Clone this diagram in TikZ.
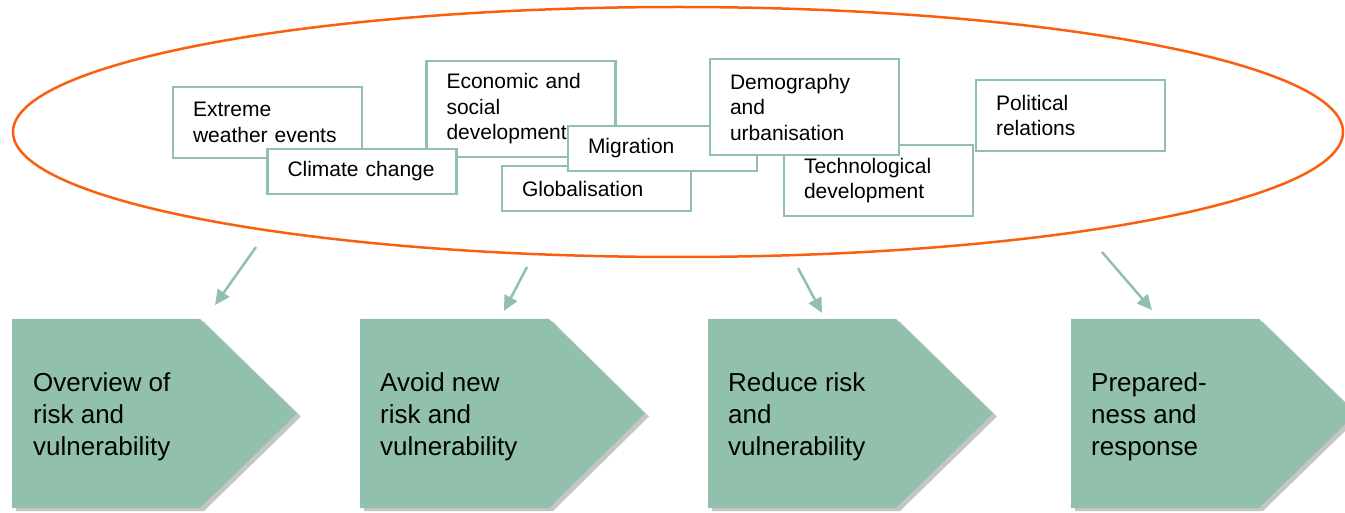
\documentclass[tikz,border=0pt]{standalone}
\usepackage{xcolor}
\usepackage{fontspec}
\setmainfont{Liberation Sans}
\usetikzlibrary{arrows.meta, shadows}

\definecolor{sage}{RGB}{145,193,172}
\definecolor{ringorange}{RGB}{250,95,15}

\begin{document}
\begin{tikzpicture}[x=1pt, y=-1pt,
	factor/.style={draw=sage, line width=2.5pt, fill=white, minimum width=189pt, text width=149pt, inner xsep=20pt, inner ysep=0pt, align=left, font=\fontsize{21}{25.5}\selectfont},
	stage/.style={fill=sage, drop shadow={shadow xshift=4pt, shadow yshift=-3pt, fill=black!45, opacity=.5}},
	stagetext/.style={anchor=west, align=left, inner sep=0pt, font=\fontsize{26}{32}\selectfont},
	link/.style={draw=sage, line width=2.5pt, -{Triangle[length=15pt,width=14pt]}}]
	\useasboundingbox (0,0) rectangle (1345,513);

	\draw[ringorange, line width=2.5pt] (678,132) ellipse [x radius=665, y radius=125];

	\begin{scope}[every node/.style=factor]
		\node[minimum height=71pt] (extreme) at (267.5,122.5) {Extreme\\weather events};
		\node[minimum height=96pt] (economic) at (521,109) {Economic and\\social\\development};
		\node[minimum height=45pt] (climate) at (362,171.5) {Climate change};
		\node[minimum height=45pt] (global) at (596.5,188.5) {Globalisation};
		\node[minimum height=45pt] (migration) at (662.5,148.5) {Migration};
		\node[minimum height=71pt] (techno) at (878.5,180.5) {Technological\\development};
		\node[minimum height=96pt] (demography) at (804.5,107) {Demography\\and\\urbanisation};
		\node[minimum height=71pt] (political) at (1070.5,115.5) {Political\\relations};
	\end{scope}

	\begin{scope}
		\fill[stage] (12,319) -- (200,319) -- (297,413.5) -- (200,508) -- (12,508) -- cycle;
		\fill[stage] (360,319) -- (549,319) -- (645,413.5) -- (549,508) -- (360,508) -- cycle;
		\fill[stage] (708,319) -- (896,319) -- (993,413.5) -- (896,508) -- (708,508) -- cycle;
		\fill[stage] (1071,319) -- (1259,319) -- (1356,413.5) -- (1259,508) -- (1071,508) -- cycle;

		\node[stagetext] (overview) at (33,417) {Overview of\\risk and\\vulnerability};
		\node[stagetext] (avoid) at (380,417) {Avoid new\\risk and\\vulnerability};
		\node[stagetext] (reduce) at (728,417) {Reduce risk\\and\\vulnerability};
		\node[stagetext] (prepare) at (1091,417) {Prepared-\\ness and\\response};
	\end{scope}

	\begin{scope}
		\coordinate (fromoverview) at (256,247);
		\coordinate (tooverview) at (215,305);
		\coordinate (fromavoid) at (527,267);
		\coordinate (toavoid) at (504,311);
		\coordinate (fromreduce) at (798,268);
		\coordinate (toreduce) at (822,313);
		\coordinate (fromprepare) at (1102,252);
		\coordinate (toprepare) at (1152,310);

		\path (fromoverview) edge[link] (tooverview);
		\path (fromavoid) edge[link] (toavoid);
		\path (fromreduce) edge[link] (toreduce);
		\path (fromprepare) edge[link] (toprepare);
	\end{scope}
\end{tikzpicture}
\end{document}
